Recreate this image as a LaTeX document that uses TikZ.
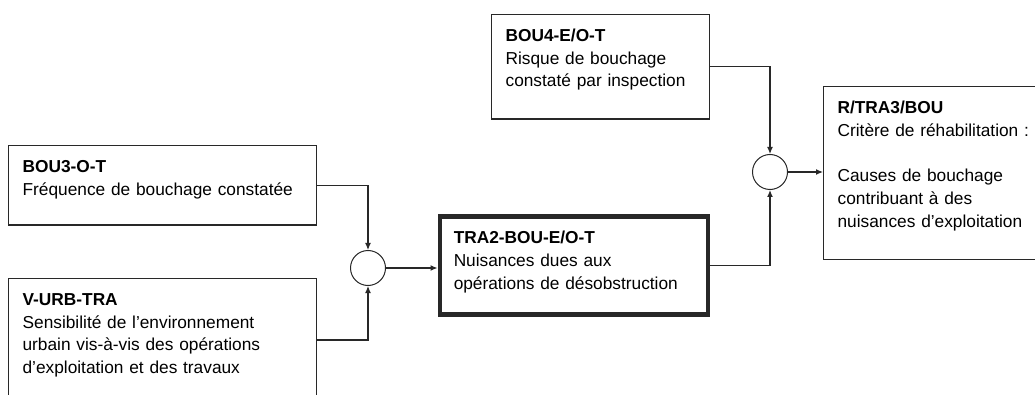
\documentclass[tikz,border=0pt]{standalone}
\usepackage{fontspec}
\setmainfont{Liberation Sans}
\usetikzlibrary{arrows.meta, positioning}
\definecolor{linegray}{RGB}{40,40,40}

\begin{document}
\begin{tikzpicture}[
    x=1pt, y=-1pt,
    box/.style={rectangle, draw=linegray, line width=1.2pt, font=\fontsize{17.3}{22.7}\selectfont, align=left, anchor=north west, inner xsep=14pt, inner ysep=14.5pt, text height=12.5pt},
    keybox/.style={box, line width=4.5pt},
    sum/.style={circle, draw=linegray, line width=1pt, minimum size=35pt, inner sep=0pt},
    arrow/.style={-{Latex[length=7pt,width=6pt]}, draw=linegray, line width=1.2pt}
]

\useasboundingbox (0,0) rectangle (1035,395);

% input boxes
\node[box, text width=280pt, text depth=38pt] (bou3) at (8,145) {\textbf{BOU3-O-T}\\Fréquence de bouchage constatée};
\node[box, text width=280pt, text depth=82pt, below=52pt of bou3.south west, anchor=north west] (vurb) {\textbf{V-URB-TRA}\\Sensibilité de l’environnement\\urbain vis-à-vis des opérations\\d’exploitation et des travaux};
\node[keybox, text width=240pt, text depth=56pt] (tra2) at (437.5,214.5) {\textbf{TRA2-BOU-E/O-T}\\Nuisances dues aux\\opérations de désobstruction};
\node[box, text width=190pt, text depth=63pt] (bou4) at (491,14) {\textbf{BOU4-E/O-T}\\Risque de bouchage\\constaté par inspection};
\node[box, text width=212pt, text depth=131pt] (rtra3) at (823,86) {\textbf{R/TRA3/BOU}\\Critère de réhabilitation :\\[22.7pt]Causes de bouchage\\contribuant à des\\nuisances d’exploitation};

% combination points
\node[sum] (sum1) at (368,268) {};
\node[sum] (sum2) at (770,172) {};

\draw[arrow] (bou3.east) -| (sum1.north);
\draw[arrow] (vurb.east) -| (sum1.south);
\draw[arrow] (sum1.east) -- (sum1.east -| tra2.west);
\draw[arrow] (bou4.east) -| (sum2.north);
\draw[arrow] (tra2.east) -| (sum2.south);
\draw[arrow] (sum2.east) -- (sum2.east -| rtra3.west);

\end{tikzpicture}
\end{document}
